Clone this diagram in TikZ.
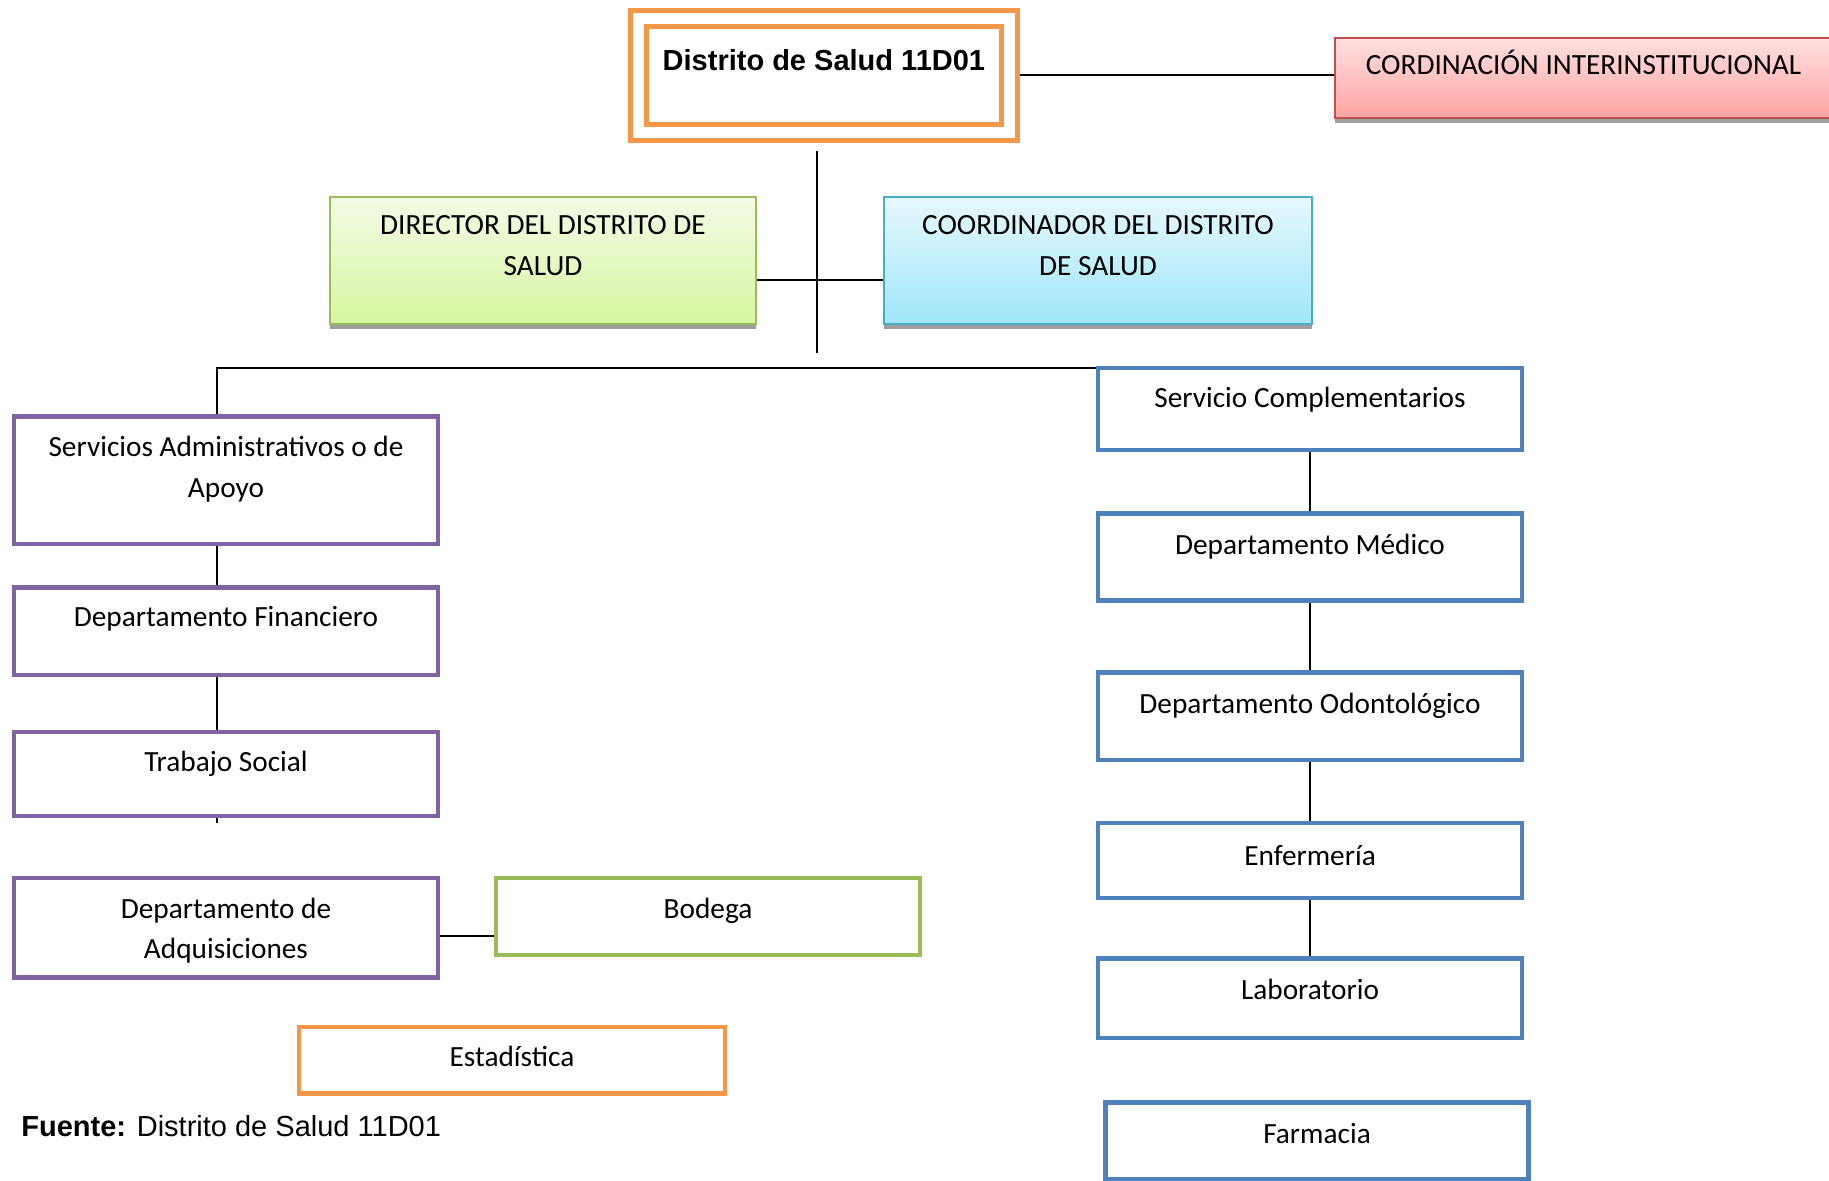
\documentclass[tikz,border=0pt]{standalone}
\usepackage{fontspec}
\setmainfont{Carlito}
\newfontfamily\arialfont{Liberation Sans}
\usepackage{tikz}
\usetikzlibrary{
	positioning,
	shadows,
	backgrounds
}

\definecolor{naranja}{RGB}{247,150,70}
\definecolor{lila}{RGB}{128,100,162}
\definecolor{azul}{RGB}{79,129,189}
\definecolor{verde}{RGB}{155,187,89}
\definecolor{cian}{RGB}{75,172,198}
\definecolor{rojo}{RGB}{192,80,77}
\definecolor{rosaA}{RGB}{255,224,224}
\definecolor{rosaB}{RGB}{255,164,162}
\definecolor{verdeA}{RGB}{243,251,230}
\definecolor{verdeB}{RGB}{215,246,160}
\definecolor{cianA}{RGB}{230,248,253}
\definecolor{cianB}{RGB}{160,230,250}

\begin{document}
\begin{tikzpicture}[
	x=0.5pt, y=-0.5pt,
	caja/.style={draw, line width=2.4pt, fill=white, inner sep=0pt, outer sep=0pt,
		anchor=north west, align=flush center, text width=212pt, text height=20pt,
		font=\fontsize{14.65}{20.4}\selectfont},
	degradado/.style={caja, line width=1pt,
		drop shadow={shadow xshift=0pt, shadow yshift=-2.6pt, fill=black!38, opacity=1}},
	linea/.style={draw=black, line width=1pt}
]
	\useasboundingbox (0,0) rectangle (1829,1181);

	% cabecera
	\node [caja, draw=naranja, line width=2.5pt, double=white, double distance=5.75pt,
		text width=185.6pt, text height=26.35pt, text depth=30.75pt,
		font=\arialfont\bfseries\fontsize{14.5}{17}\selectfont]
		(dist) at (638.3,18.3) {Distrito de Salud 11D01};
	\node [degradado, draw=rojo, top color=rosaA, bottom color=rosaB,
		text width=248.5pt, text height=18.5pt, text depth=21.5pt]
		(cord) at (1335,38) {CORDINACIÓN INTERINSTITUCIONAL};
	\node [degradado, draw=verde, top color=verdeA, bottom color=verdeB,
		text width=213pt, text height=19pt, text depth=44.5pt]
		(dir) at (330,197) {DIRECTOR DEL DISTRITO DE\\SALUD};
	\node [degradado, draw=cian, top color=cianA, bottom color=cianB,
		text width=214pt, text height=19pt, text depth=44.5pt]
		(coo) at (884,197) {COORDINADOR DEL DISTRITO\\DE SALUD};

	% lado administrativo
	\node [caja, draw=lila, text height=20.15pt, text depth=43.5pt]
		(sadm) at (14,416.7) {Servicios Administrativos o de\\Apoyo};
	\node [caja, draw=lila, text height=19.6pt, text depth=24.15pt]
		(fin) at (14,587.5) {Departamento Financiero};
	\node [caja, draw=lila, text height=19.85pt, text depth=22.15pt]
		(tra) at (14,732) {Trabajo Social};
	\node [caja, draw=lila, text height=20pt, text depth=29.75pt]
		(adq) at (14,878) {Departamento de\\Adquisiciones};
	\node [caja, draw=verde, text height=20pt, text depth=18.5pt]
		(bod) at (496,878) {Bodega};
	\node [caja, draw=naranja, text width=213pt, text height=19.85pt, text depth=13.4pt]
		(est) at (299,1027) {Estadística};

	% servicios complementarios
	\node [caja, draw=azul, text height=19.7pt, text depth=21.3pt]
		(scom) at (1098,368) {Servicio Complementarios};
	\node [caja, draw=azul, text height=20.45pt, text depth=23pt]
		(med) at (1098,513.6) {Departamento Médico};
	\node [caja, draw=azul, text height=20.2pt, text depth=23.4pt]
		(odo) at (1098,672.8) {Departamento Odontológico};
	\node [caja, draw=azul, text height=21.3pt, text depth=16.2pt]
		(enf) at (1098,823) {Enfermería};
	\node [caja, draw=azul, text height=20.55pt, text depth=19.2pt]
		(lab) at (1098,958.5) {Laboratorio};
	\node [caja, draw=azul, text width=211.7pt, text height=20.4pt, text depth=17.85pt]
		(far) at (1105.3,1102.5) {Farmacia};

	\node [anchor=base west, inner sep=0pt, font=\arialfont\fontsize{14.5}{17}\selectfont]
		(fuente) at (21,1136.7) {\textbf{Fuente:} Distrito de Salud 11D01};

	\coordinate (vsup) at (817,151);
	\coordinate (vinf) at (817,353);
	\coordinate (cruce) at (817,280);
	\coordinate (hizq) at (216.5,368);

	\begin{scope}[on background layer]
		\draw [linea] (dist.east) -- (dist.east -| cord.west);
		\draw [linea] (vsup) -- (vinf);
		\draw [linea] (dir.east |- cruce) -- (coo.west |- cruce);
		\draw [linea] (scom.north west) -- (hizq) -- (hizq |- sadm.north);
		\draw [linea] (hizq |- sadm.south) -- (hizq |- fin.north);
		\draw [linea] (hizq |- fin.south) -- (hizq |- tra.north);
		\draw [linea] (hizq |- tra.south) -- ++(0,7);
		\draw [linea] ([yshift=-4pt]adq.east) -- ([yshift=-4pt]adq.east -| bod.west);
		\foreach \a/\b in {scom/med, med/odo, odo/enf, enf/lab}
			\draw [linea] (\a.south) -- (\b.north);
	\end{scope}
\end{tikzpicture}
\end{document}
